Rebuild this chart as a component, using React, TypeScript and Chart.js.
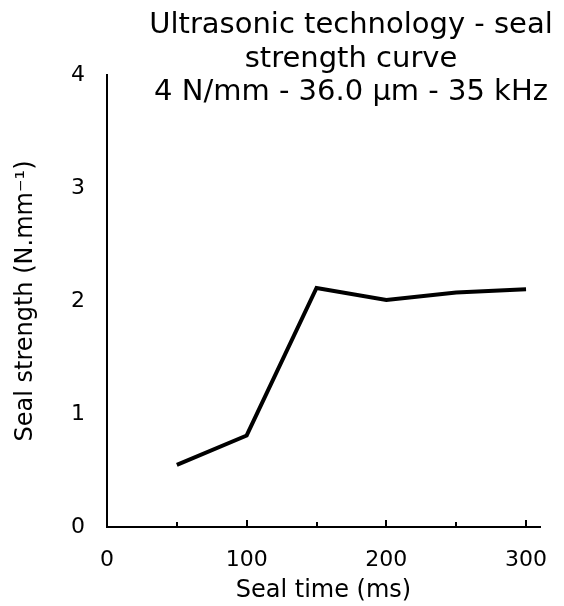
import React, { useEffect, useRef } from "react";
import { Chart, registerables } from "chart.js";

Chart.register(...registerables);

const sealTimes = [50, 100, 150, 200, 250, 300];
const sealStrength = [0.55, 0.81, 2.115, 2.01, 2.075, 2.105];
const xTickLabels = [0, 100, 200, 300];
const titleLines = ["Ultrasonic technology - seal", "strength curve", "4 N/mm - 36.0 μm - 35 kHz"];
const xTitle = "Seal time (ms)";
const yTitle = "Seal strength (N.mm⁻¹)";

const FONT = "'DejaVu Sans', Verdana, sans-serif";

const decorPlugin = {
  id: "decor",
  afterDraw(chart: any) {
    const ctx = chart.ctx;
    const xs = chart.scales.x;
    const area = chart.chartArea;
    ctx.save();
    // inward tick marks on x axis
    ctx.strokeStyle = "#000";
    ctx.lineWidth = 2;
    for (let v = 50; v <= 300; v += 50) {
      const px = Math.round(xs.getPixelForValue(v));
      const len = v % 100 === 0 ? 7 : 5;
      ctx.beginPath();
      ctx.moveTo(px, area.bottom);
      ctx.lineTo(px, area.bottom - len);
      ctx.stroke();
    }
    // title
    ctx.fillStyle = "#000";
    ctx.font = `29px ${FONT}`;
    ctx.textAlign = "center";
    ctx.textBaseline = "alphabetic";
    const baselines = [33, 66.5, 100];
    titleLines.forEach((t, i) => ctx.fillText(t, 351, baselines[i]));
    ctx.restore();
  },
};

export default function App() {
  const ref = useRef<HTMLCanvasElement>(null);
  useEffect(() => {
    if (!ref.current) return;
    const chart = new Chart(ref.current, {
      type: "line",
      data: {
        datasets: [
          {
            data: sealTimes.map((x, i) => ({ x, y: sealStrength[i] })),
            borderColor: "#000",
            borderWidth: 4,
            pointRadius: 0,
            tension: 0,
            fill: false,
          },
        ],
      },
      options: {
        animation: false,
        responsive: false,
        layout: { padding: { left: 0, top: 75, right: 24, bottom: 0 } },
        plugins: { legend: { display: false }, tooltip: { enabled: false }, title: { display: false } },
        scales: {
          x: {
            type: "linear",
            min: 0,
            max: 310,
            afterFit: (s: any) => {
              s.height = 79;
              s.paddingRight = 0;
              s.paddingLeft = 0;
            },
            border: { display: true, color: "#000", width: 2 },
            grid: { display: false, drawTicks: false },
            ticks: {
              stepSize: 50,
              includeBounds: false,
              autoSkip: false,
              maxRotation: 0,
              padding: 20,
              color: "#000",
              font: { family: FONT, size: 22 },
              callback: (v: any) => (xTickLabels.includes(Number(v)) ? String(v) : ""),
            },
            title: {
              display: true,
              text: xTitle,
              color: "#000",
              font: { family: FONT, size: 24 },
              padding: { top: 0, bottom: 1 },
            },
          },
          y: {
            type: "linear",
            min: 0,
            max: 4,
            afterFit: (s: any) => {
              s.width = 107;
              s.paddingTop = 0;
              s.paddingBottom = 0;
            },
            border: { display: true, color: "#000", width: 2 },
            grid: { display: false, drawTicks: false },
            ticks: {
              stepSize: 1,
              padding: 22,
              color: "#000",
              font: { family: FONT, size: 22 },
            },
            title: {
              display: true,
              text: yTitle,
              color: "#000",
              font: { family: FONT, size: 24 },
              padding: { top: 11, bottom: 0 },
            },
          },
        },
      },
      plugins: [decorPlugin],
    });
    return () => chart.destroy();
  }, []);
  return (
    <div style={{ position: "fixed", left: 0, top: 0, width: 564, height: 606, background: "#fff" }}>
      <canvas ref={ref} width={564} height={606} style={{ width: 564, height: 606 }} />
    </div>
  );
}
